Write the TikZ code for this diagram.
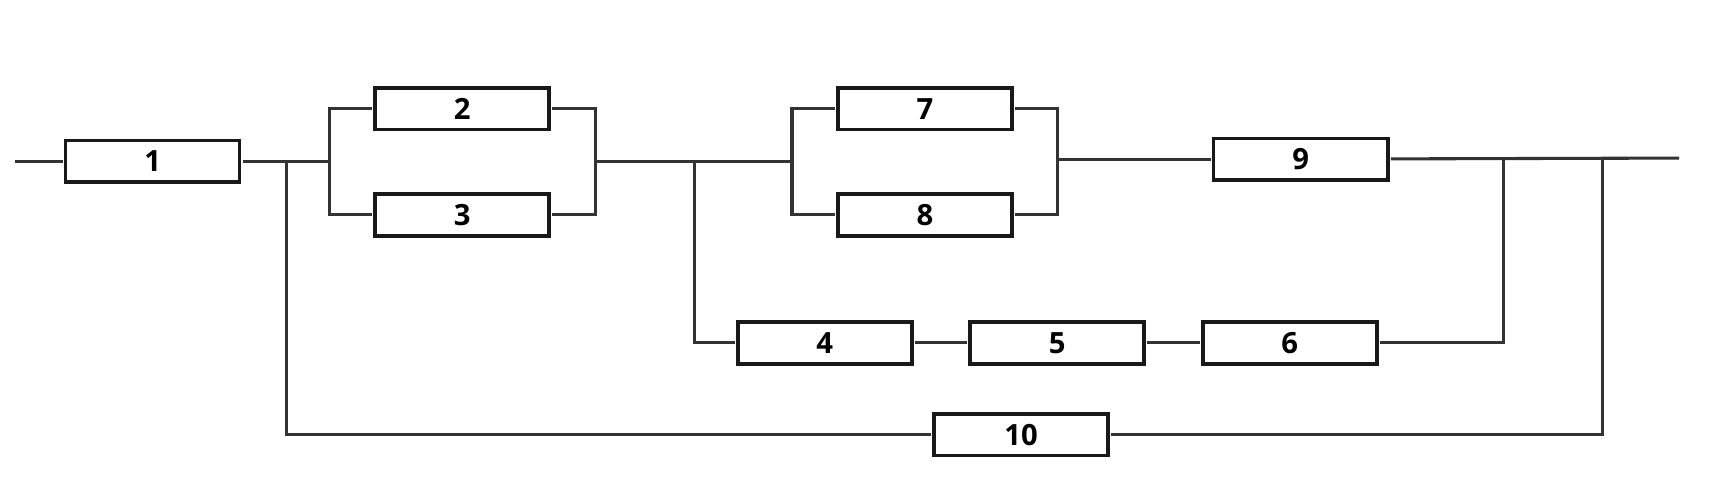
\documentclass[tikz,border=0pt]{standalone}
\usepackage{fontspec}
\setmainfont{Open Sans}
\begin{document}
\begin{tikzpicture}[x=0.01cm, y=-0.01cm, line width=0.8pt, draw=black!80,
	every node/.style={draw=black!90, line width=0.95pt, minimum width=1.59cm, minimum height=0.38cm, inner sep=0pt, outer sep=0.8pt, font=\fontsize{7.6}{9}\selectfont\bfseries}]

\useasboundingbox (0,0) rectangle (1565,443);

\node(1) at(139.5,147.5) {1};
\foreach \n\x\y in {2/422.5/99.5,3/422.5/196.5,7/845.5/99.5,8/845.5/196.5,9/1189/145.5,4/754/313.5,5/966.5/313.5,6/1179/313.5,10/933.5/397.5}{
	\node(\n) at(\x,\y) {\n};
}

\coordinate(in) at(14,147.5);
\coordinate(out) at(1535,144.5);
\coordinate(j1) at(262,147.5);
\coordinate(l1) at(301,147.5);
\coordinate(r1) at(544,147.5);
\coordinate(j2) at(635,147.5);
\coordinate(l2) at(724,147.5);
\coordinate(r2) at(967,145.5);
\coordinate(j3) at(1374,145);
\coordinate(j4) at(1465,145);

\foreach \u \v in {
in/1%
,1/l1%
,r1/l2%
,r2/9%
,9/out%
,4/5%
,5/6%
}{
	\draw (\u) -- (\v);
}

\foreach \a \b \c in {
2/l1/3%
,2/r1/3%
,7/l2/8%
,7/r2/8%
}{
	\draw (\a) -| (\b) |- (\c);
}

\draw (j2) |- (4);
\draw (j1) |- (10);
\draw (6) -| (j3);
\draw (10) -| (j4);

\end{tikzpicture}
\end{document}
